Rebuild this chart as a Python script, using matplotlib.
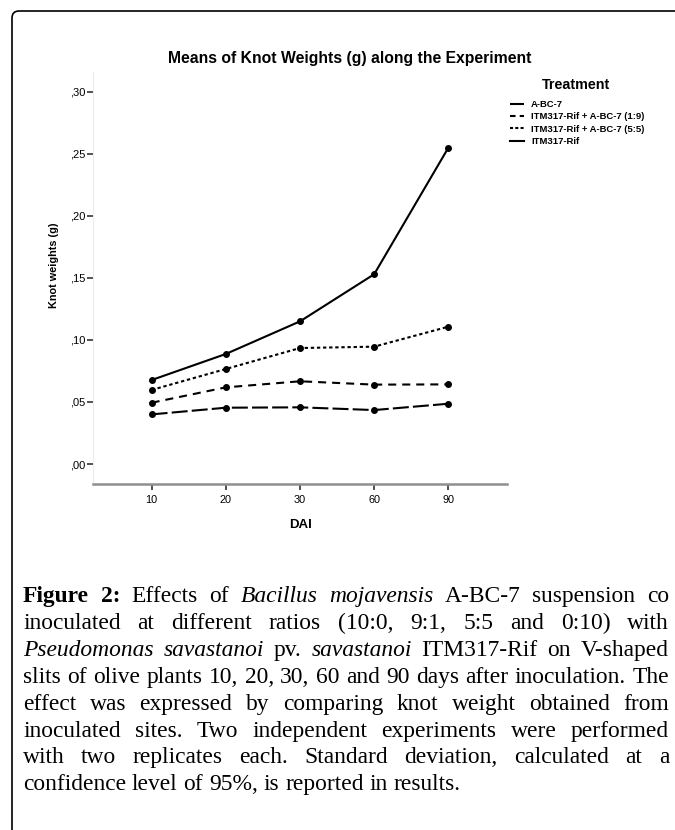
import matplotlib
matplotlib.use("Agg")
import matplotlib.pyplot as plt
from matplotlib.patches import FancyBboxPatch
from matplotlib.ticker import FuncFormatter

# data
days = ["10", "20", "30", "60", "90"]
treatments = ["A-BC-7", "ITM317-Rif + A-BC-7 (1:9)",
              "ITM317-Rif + A-BC-7 (5:5)", "ITM317-Rif"]
abc7 = [0.0400, 0.0454, 0.0457, 0.0435, 0.0486]
mix_1_9 = [0.0494, 0.0618, 0.0667, 0.0640, 0.0642]
mix_5_5 = [0.0597, 0.0766, 0.0935, 0.0946, 0.1107]
itm317 = [0.0677, 0.0887, 0.1150, 0.1530, 0.2550]

title = "Means of Knot Weights (g) along the Experiment"

# caption lines, each word with its style (n normal, b bold, i italic)
caption = [
    [("Figure", "b"), ("2:", "b"), ("Effects", "n"), ("of", "n"), ("Bacillus", "i"),
     ("mojavensis", "i"), ("A-BC-7", "n"), ("suspension", "n"), ("co", "n")],
    [("inoculated", "n"), ("at", "n"), ("different", "n"), ("ratios", "n"), ("(10:0,", "n"),
     ("9:1,", "n"), ("5:5", "n"), ("and", "n"), ("0:10)", "n"), ("with", "n")],
    [("Pseudomonas", "i"), ("savastanoi", "i"), ("pv.", "n"), ("savastanoi", "i"),
     ("ITM317-Rif", "n"), ("on", "n"), ("V-shaped", "n")],
    [(w, "n") for w in "slits of olive plants 10, 20, 30, 60 and 90 days after inoculation. The".split()],
    [(w, "n") for w in "effect was expressed by comparing knot weight obtained from".split()],
    [(w, "n") for w in "inoculated sites. Two independent experiments were performed".split()],
    [(w, "n") for w in "with two replicates each. Standard deviation, calculated at a".split()],
    [(w, "n") for w in "confidence level of 95%, is reported in results.".split()],
]

plt.rcParams["font.family"] = ["Liberation Sans", "DejaVu Sans"]
plt.rcParams["lines.scale_dashes"] = False

W, H = 675, 830
fig = plt.figure(figsize=(W / 100, H / 100), dpi=100)

# background axes in pixel units for the frame and the caption
bg = fig.add_axes([0, 0, 1, 1])
bg.set_xlim(0, W)
bg.set_ylim(H, 0)
bg.axis("off")
bg.add_patch(FancyBboxPatch((12, 11), 720, 900,
                            boxstyle="round,pad=0,rounding_size=7",
                            fill=False, ec="black", lw=1.2))

# chart
ax = fig.add_axes([93 / W, 1 - 484 / H, (507 - 93) / W, (484 - 72) / H])
x = list(range(len(days)))
series = [abc7, mix_1_9, mix_5_5, itm317]
styles = [(0, (11.5, 3.0)), (0, (5.8, 4.3)), (0, (2.4, 2.0)), "-"]
for vals, ls, lab in zip(series, styles, treatments):
    ax.plot(x, vals, color="black", lw=1.5, linestyle=ls, marker="o",
            markersize=4, label=lab)

ax.set_xlim(-0.79, 4.79)
ax.set_ylim(-0.0161, 0.316)
ax.set_xticks(x)
ax.set_xticklabels(days)
ax.set_yticks([0, 0.05, 0.10, 0.15, 0.20, 0.25, 0.30])
ax.yaxis.set_major_formatter(FuncFormatter(lambda v, p: "{:.2f}".format(v)[1:].replace(".", ",")))
for s in ["top", "right"]:
    ax.spines[s].set_visible(False)
ax.spines["left"].set_color("#ececec")
ax.spines["left"].set_linewidth(0.8)
ax.spines["bottom"].set_color("#8f8f8f")
ax.spines["bottom"].set_linewidth(1.8)
ax.tick_params(axis="both", direction="out", length=4, width=1.2, color="#333333")
ax.tick_params(axis="x", pad=4, labelsize=7.8)
ax.tick_params(axis="y", pad=1.5, labelsize=8)
ax.set_xlabel("DAI", fontsize=9.5, fontweight="bold", labelpad=10)
ax.set_ylabel("Knot weights (g)", fontsize=7.8, fontweight="bold")
ax.yaxis.set_label_coords((59 - 93) / (507 - 93), (484 - 265) / (484 - 72))

fig.text(350 / W, 1 - 59 / H, title, ha="center", va="center",
         fontsize=11.3, fontweight="bold")

# legend: title drawn on its own so the gap below it can be set
fig.text(576 / W, 1 - 85 / H, "Treatment", ha="center", va="center",
         fontsize=10.3, fontweight="bold")
leg = ax.legend(loc="upper left", bbox_to_anchor=(510 / W, 1 - 100 / H),
                bbox_transform=fig.transFigure, frameon=False,
                prop={"size": 6.8, "weight": "bold"},
                handlelength=1.5, handletextpad=0.75, labelspacing=0.35,
                borderpad=0, borderaxespad=0)
handle_dashes = [(0, (20, 1)), (0, (4.0, 3.0)), (0, (2.2, 1.6)), "-"]
for line, ls in zip(leg.get_lines(), handle_dashes):
    line.set_marker("")
    line.set_linestyle(ls)

# caption, justified by hand
renderer = fig.canvas.get_renderer()
left, right = 23, 669
base0, step = 602, 26.9


def word_text(s, style, xpos, ypos, size):
    kw = {"family": "Liberation Serif", "fontsize": size}
    if style == "b":
        kw["fontweight"] = "bold"
    if style == "i":
        kw["fontstyle"] = "italic"
    return bg.text(xpos, ypos, s, ha="left", va="baseline", **kw)


def space_width(size):
    a = word_text("x x", "n", 0, -50, size)
    b = word_text("xx", "n", 0, -50, size)
    sp = a.get_window_extent(renderer).width - b.get_window_extent(renderer).width
    a.remove()
    b.remove()
    return sp


# pick the size at which the widest line just fits with ordinary spaces
natural = []
for line in caption:
    tmp = [word_text(w, st, 0, -50, 10) for w, st in line]
    total = sum(t.get_window_extent(renderer).width for t in tmp)
    natural.append(total + space_width(10) * (len(tmp) - 1))
    for t in tmp:
        t.remove()
cap_size = 10 * (right - left) / max(natural) * 0.99
space = space_width(cap_size)

for i, line in enumerate(caption):
    yb = base0 + i * step
    texts = [word_text(w, st, left, yb, cap_size) for w, st in line]
    widths = [t.get_window_extent(renderer).width for t in texts]
    if i < len(caption) - 1:
        gap = (right - left - sum(widths)) / (len(texts) - 1)
    else:
        gap = space
    xpos = left
    for t, wdt in zip(texts, widths):
        t.set_x(xpos)
        xpos += wdt + gap

fig.savefig("out.png", dpi=100)
